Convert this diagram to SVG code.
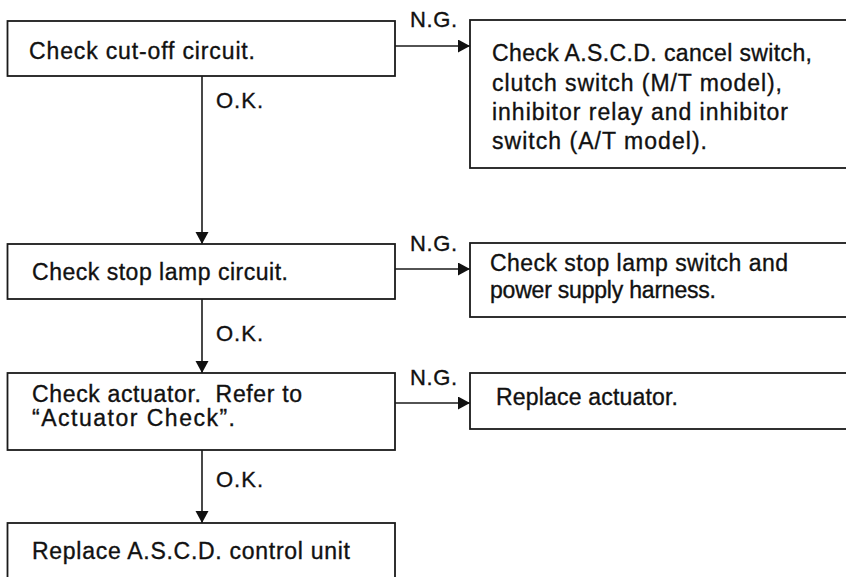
<svg xmlns="http://www.w3.org/2000/svg" width="846" height="577" viewBox="0 0 846 577">
<defs>
<style>
.box{fill:#fff;stroke:#1a1a1a;stroke-width:1.8}
.t{font-family:"Liberation Sans",Arial,sans-serif;font-size:23px;fill:#111;stroke:#111;stroke-width:0.35}
.lbl{font-family:"Liberation Sans",Arial,sans-serif;font-size:22px;fill:#111;stroke:#111;stroke-width:0.35}
.c{fill:none;stroke:#1a1a1a;stroke-width:1.6}
</style>
<marker id="ah" markerUnits="userSpaceOnUse" markerWidth="13" markerHeight="14" refX="12" refY="6.5" orient="auto">
<path d="M0,0 L12,6.5 L0,13 z" fill="#111"/>
</marker>
</defs>
<rect width="846" height="577" fill="#fff"/>

<g id="connectors">
<line class="c" x1="202" y1="76" x2="202" y2="244" marker-end="url(#ah)"/>
<line class="c" x1="202" y1="299" x2="202" y2="373" marker-end="url(#ah)"/>
<line class="c" x1="202" y1="450" x2="202" y2="523" marker-end="url(#ah)"/>
<line class="c" x1="395" y1="46" x2="470" y2="46" marker-end="url(#ah)"/>
<line class="c" x1="395" y1="269" x2="470" y2="269" marker-end="url(#ah)"/>
<line class="c" x1="395" y1="403" x2="470" y2="403" marker-end="url(#ah)"/>
<text class="lbl" x="216" y="108" textLength="47" lengthAdjust="spacing">O.K.</text>
<text class="lbl" x="216" y="341" textLength="47" lengthAdjust="spacing">O.K.</text>
<text class="lbl" x="216" y="487" textLength="47" lengthAdjust="spacing">O.K.</text>
<text class="lbl" x="410" y="27" textLength="47" lengthAdjust="spacing">N.G.</text>
<text class="lbl" x="410" y="251" textLength="47" lengthAdjust="spacing">N.G.</text>
<text class="lbl" x="410" y="385" textLength="47" lengthAdjust="spacing">N.G.</text>
</g>

<g id="n1">
<rect class="box" x="7.5" y="21" width="387.5" height="55"/>
<text class="t" x="29" y="59" textLength="226" lengthAdjust="spacing">Check cut-off circuit.</text>
</g>

<g id="n2">
<rect class="box" x="470" y="20" width="390" height="148"/>
<text class="t" x="492" y="61" textLength="320" lengthAdjust="spacing">Check A.S.C.D. cancel switch,</text>
<text class="t" x="492" y="91" textLength="290" lengthAdjust="spacing">clutch switch (M/T model),</text>
<text class="t" x="492" y="120" textLength="296" lengthAdjust="spacing">inhibitor relay and inhibitor</text>
<text class="t" x="492" y="149" textLength="215" lengthAdjust="spacing">switch (A/T model).</text>
</g>

<g id="n3">
<rect class="box" x="7.5" y="244" width="387.5" height="55"/>
<text class="t" x="32" y="280" textLength="256" lengthAdjust="spacing">Check stop lamp circuit.</text>
</g>

<g id="n4">
<rect class="box" x="470" y="243" width="390" height="74"/>
<text class="t" x="490" y="271" textLength="298" lengthAdjust="spacing">Check stop lamp switch and</text>
<text class="t" x="490" y="298" textLength="226" lengthAdjust="spacing">power supply harness.</text>
</g>

<g id="n5">
<rect class="box" x="7.5" y="373" width="387.5" height="77"/>
<text class="t" x="32" y="402" textLength="270" lengthAdjust="spacing" xml:space="preserve">Check actuator.  Refer to</text>
<text class="t" x="32" y="426" textLength="203" lengthAdjust="spacing">“Actuator Check”.</text>
</g>

<g id="n6">
<rect class="box" x="470" y="373" width="390" height="56"/>
<text class="t" x="496" y="405" textLength="182" lengthAdjust="spacing">Replace actuator.</text>
</g>

<g id="n7">
<rect class="box" x="7.5" y="523" width="387.5" height="80"/>
<text class="t" x="32" y="559" textLength="318" lengthAdjust="spacing">Replace A.S.C.D. control unit</text>
</g>
</svg>
